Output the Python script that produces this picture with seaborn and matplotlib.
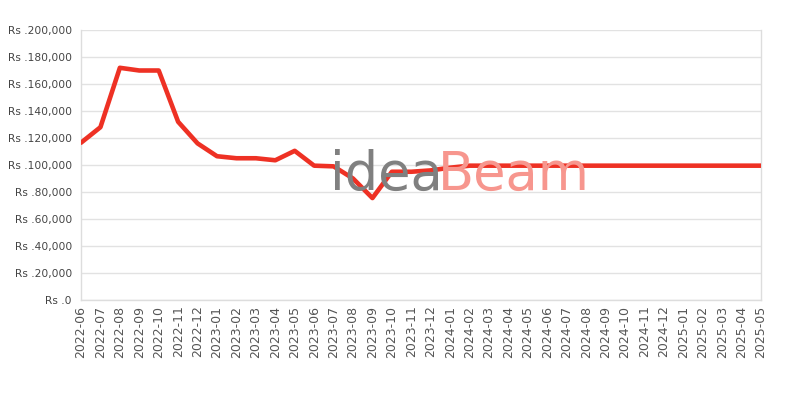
import pandas as pd
import matplotlib.pyplot as plt
import seaborn as sns
from matplotlib.ticker import FuncFormatter

# Monthly prices
months = ['2022-06', '2022-07', '2022-08', '2022-09', '2022-10', '2022-11',
          '2022-12', '2023-01', '2023-02', '2023-03', '2023-04', '2023-05',
          '2023-06', '2023-07', '2023-08', '2023-09', '2023-10', '2023-11',
          '2023-12', '2024-01', '2024-02', '2024-03', '2024-04', '2024-05',
          '2024-06', '2024-07', '2024-08', '2024-09', '2024-10', '2024-11',
          '2024-12', '2025-01', '2025-02', '2025-03', '2025-04', '2025-05']
prices = [116500, 128000, 172000, 170000, 170000, 132000,
          116000, 106500, 105000, 105000, 103500, 110500,
          99500, 99000, 90000, 75500, 95000, 95000,
          96000, 98000, 99500, 99500, 99500, 99500,
          99500, 99500, 99500, 99500, 99500, 99500,
          99500, 99500, 99500, 99500, 99500, 99500]
y_ticks = [0, 20000, 40000, 60000, 80000, 100000, 120000, 140000, 160000, 180000, 200000]

df = pd.DataFrame({'month': months, 'price': prices})
df['pos'] = range(len(df))

sns.set_style('white')
fig = plt.figure(figsize=(8, 4), dpi=100)
ax = fig.add_axes([0.10125, 0.25, 0.85, 0.675])

# watermark
fig.text(0.4125, 0.525, 'idea', fontsize=38, color='#808080',
         ha='left', va='baseline', zorder=0)
fig.text(0.5475, 0.525, 'Beam', fontsize=38, color='#f7968e',
         ha='left', va='baseline', zorder=0)

sns.lineplot(data=df, x='pos', y='price', color='#ee3124', linewidth=3.3, ax=ax, zorder=5)

ax.set_xlim(0, len(months) - 1)
ax.set_ylim(0, 200000)
ax.set_xticks(df['pos'])
ax.set_xticklabels(months, rotation=90, fontsize=9, color='#555555')
ax.set_yticks(y_ticks)
ax.yaxis.set_major_formatter(FuncFormatter(lambda v, p: 'Rs .{:,.0f}'.format(v)))
ax.tick_params(axis='y', labelsize=7.7, labelcolor='#444444', length=0, pad=6.5)
ax.tick_params(axis='x', length=0, pad=4)
ax.grid(axis='y', color='#e2e2e2', linewidth=1)
ax.set_axisbelow(True)
ax.set_xlabel('')
ax.set_ylabel('')
ax.patch.set_alpha(0)
for s in ax.spines.values():
    s.set_color('#dddddd')
    s.set_linewidth(1)
ax.spines['top'].set_visible(False)

plt.savefig('out.png', dpi=100)
